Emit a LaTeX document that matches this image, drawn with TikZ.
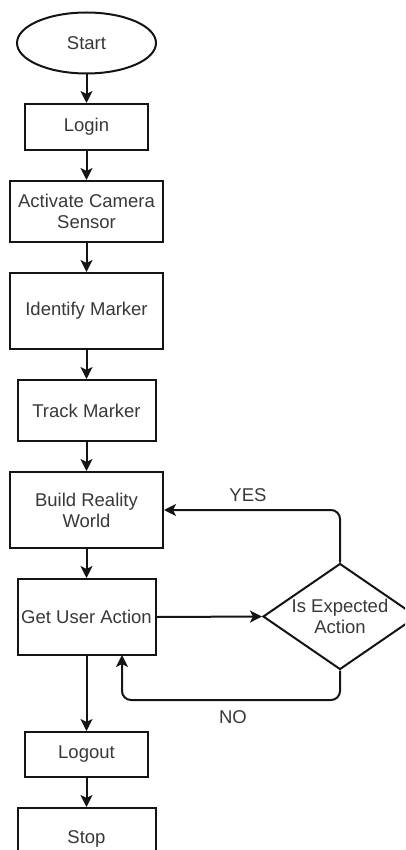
\documentclass[tikz,border=0pt]{standalone}
\usepackage{fontspec}
\setmainfont{Liberation Sans}
\usetikzlibrary{arrows.meta,shapes.geometric}
\definecolor{linecol}{HTML}{141414}
\definecolor{textcol}{HTML}{383838}
\tikzset{
  base/.style={draw=linecol, line width=2pt, text=textcol, inner sep=0pt,
    font=\fontsize{18.5}{21}\selectfont, align=center},
  box/.style={base, rectangle},
  oval/.style={base, ellipse},
  decision/.style={base, diamond},
  arr/.style={draw=linecol, line width=2pt, rounded corners=9pt,
    -{Stealth[length=12pt,width=12pt,inset=3pt]}},
  lbl/.style={text=textcol, font=\fontsize{18.5}{21}\selectfont, inner sep=0pt, align=center}
}
\begin{document}
\begin{tikzpicture}[x=1pt,y=-1pt]
\path[use as bounding box] (0,0) rectangle (405,850);
\clip (0,0) rectangle (405,850);
\node[oval, minimum width=139pt, minimum height=61pt] (start) at (86.5,43) {Start};
\node[box, minimum width=123pt, minimum height=46pt] (login) at (86.5,127) {Login};
\node[box, minimum width=153pt, minimum height=61pt] (cam) at (86.5,211.5) {Activate Camera\\Sensor};
\node[box, minimum width=153pt, minimum height=76pt] (ident) at (86.5,311) {Identify Marker};
\node[box, minimum width=138pt, minimum height=61pt] (track) at (86.5,410.5) {Track Marker};
\node[box, minimum width=153pt, minimum height=76pt] (build) at (86.5,510) {Build Reality\\World};
\node[box, minimum width=138pt, minimum height=76pt] (user) at (86.5,617) {Get User Action};
\node[box, minimum width=123pt, minimum height=45pt] (logout) at (86.5,754.5) {Logout};
\node[box, minimum width=138pt, minimum height=61pt] (stop) at (86.5,838.5) {Stop};
\node[decision, minimum width=154pt, minimum height=106pt] (dec) at (340,616.5) {};
\node[lbl] (dectext) at (dec.center) {Is Expected\\Action};

\coordinate (yescorner) at (340,510);
\coordinate (nocorner1) at (340,700);
\coordinate (nocorner2) at (122,700);
\coordinate (notarget) at (122,655);

\draw[arr] (start) -- (login);
\draw[arr] (login) -- (cam);
\draw[arr] (cam) -- (ident);
\draw[arr] (ident) -- (track);
\draw[arr] (track) -- (build);
\draw[arr] (build) -- (user);
\draw[arr] (user) -- (logout);
\draw[arr] (logout) -- (stop);
\draw[arr] (user.east) -- (dec.west);
\draw[arr] (dec.north) -- (yescorner) -- (build.east |- yescorner);
\draw[arr] (dec.south) -- (nocorner1) -- (nocorner2) -- (notarget);

\node[lbl] (yes) at (248,495) {YES};
\node[lbl] (no) at (233,717) {NO};
\end{tikzpicture}
\end{document}
